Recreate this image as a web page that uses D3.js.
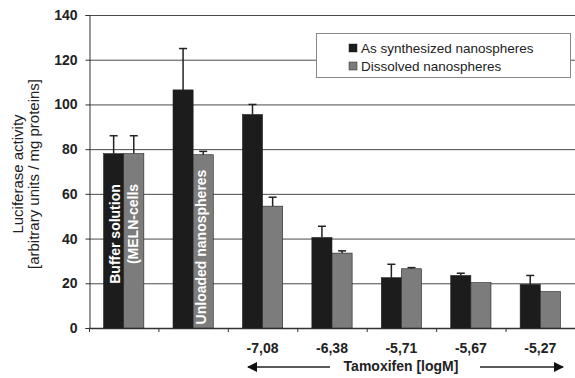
<!DOCTYPE html>
<html>
<head>
<meta charset="utf-8">
<script src="https://cdn.jsdelivr.net/npm/d3@7"></script>
<style>
  html, body { margin: 0; padding: 0; background: #fff; }
  svg { display: block; font-family: "Liberation Sans", Arial, sans-serif; }
</style>
</head>
<body>
<div id="chart"></div>
<script>
// data
const groups = ['buffer', 'unloaded', 'c1', 'c2', 'c3', 'c4', 'c5'];
const tickLabels = ['', '', '-7,08', '-6,38', '-5,71', '-5,67', '-5,27'];
const synthesized = [78, 106.5, 95.5, 40.5, 22.5, 23.5, 19.5];
const synthesizedErr = [86, 125, 100, 45.5, 28.5, 24.5, 23.5];
const dissolved = [78, 77.5, 54.5, 33.5, 26.5, 20.3, 16.3];
const dissolvedErr = [86, 79, 58.5, 34.5, 27, null, null];
const yTicks = [0, 20, 40, 60, 80, 100, 120, 140];
const seriesNames = ['As synthesized nanospheres', 'Dissolved nanospheres'];
const colors = ['#1c1c1c', '#7c7c7c'];

const width = 575, height = 378;
const margin = {top: 15, right: 0, bottom: 50, left: 89};

const svg = d3.select('#chart').append('svg')
  .attr('width', width).attr('height', height);

const x = d3.scaleBand().domain(groups)
  .range([margin.left, width - margin.right])
  .paddingInner(0.42).paddingOuter(0.21);
const y = d3.scaleLinear().domain([0, 140]).range([height - margin.bottom, margin.top]);
const bw = x.bandwidth() / 2;
const step = x.step();

// gridlines
svg.append('g').selectAll('line').data(yTicks.filter(d => d > 0)).join('line')
  .attr('x1', margin.left).attr('x2', width)
  .attr('y1', d => y(d) + 0.5).attr('y2', d => y(d) + 0.5)
  .attr('stroke', '#4a4a4a').attr('stroke-width', 1);

// y axis
const yAxis = svg.append('g').attr('transform', `translate(${margin.left + 0.5},0)`)
  .call(d3.axisLeft(y).tickValues(yTicks).tickSize(4).tickPadding(8));
yAxis.selectAll('text').attr('font-size', 14).attr('font-weight', 'bold').attr('fill', '#222');
yAxis.selectAll('line, path').attr('stroke', '#333');

// x axis baseline with boundary ticks
const xg = svg.append('g');
xg.append('line').attr('x1', margin.left).attr('x2', width)
  .attr('y1', y(0) + 0.5).attr('y2', y(0) + 0.5).attr('stroke', '#333').attr('stroke-width', 1.5);
xg.selectAll('.bt').data(groups).join('line')
  .attr('x1', (d, i) => margin.left + i * step + 0.5)
  .attr('x2', (d, i) => margin.left + i * step + 0.5)
  .attr('y1', y(0)).attr('y2', y(0) + 4).attr('stroke', '#333');
xg.selectAll('.lbl').data(groups).join('text')
  .attr('x', d => x(d) + x.bandwidth() / 2)
  .attr('y', y(0) + 25)
  .attr('text-anchor', 'middle')
  .attr('font-size', 14).attr('font-weight', 'bold').attr('fill', '#222')
  .text((d, i) => tickLabels[i]);

// bars
const series = [
  {vals: synthesized, err: synthesizedErr, off: 0},
  {vals: dissolved, err: dissolvedErr, off: bw}
];
series.forEach((s, si) => {
  svg.append('g').selectAll('rect').data(groups).join('rect')
    .attr('x', d => x(d) + s.off)
    .attr('y', (d, i) => y(s.vals[i]))
    .attr('width', bw)
    .attr('height', (d, i) => y(0) - y(s.vals[i]))
    .attr('fill', colors[si])
    .attr('stroke', '#222').attr('stroke-width', 0.6);
  const eg = svg.append('g').attr('stroke', '#222').attr('stroke-width', 1.5);
  groups.forEach((g, i) => {
    if (s.err[i] == null) return;
    const cx = x(g) + s.off + bw / 2;
    eg.append('line').attr('x1', cx).attr('x2', cx)
      .attr('y1', y(s.vals[i])).attr('y2', y(s.err[i]));
    eg.append('line').attr('x1', cx - 4).attr('x2', cx + 4)
      .attr('y1', y(s.err[i])).attr('y2', y(s.err[i]));
  });
});

// labels inside bars
const inBar = [
  {g: 'buffer', off: 0, text: 'Buffer solution', cy: 234, dx: 6},
  {g: 'buffer', off: bw, text: '(MELN-cells', cy: 224, dx: 4},
  {g: 'unloaded', off: bw, text: 'Unloaded nanospheres', cy: 247, dx: 3}
];
inBar.forEach(t => {
  const cx = x(t.g) + t.off + bw / 2 + t.dx;
  svg.append('text')
    .attr('transform', `translate(${cx},${t.cy}) rotate(-90)`)
    .attr('text-anchor', 'middle')
    .attr('font-size', 14).attr('font-weight', 'bold').attr('fill', '#fff')
    .text(t.text);
});

// y title
const yt = svg.append('text')
  .attr('transform', `translate(23,174) rotate(-90)`)
  .attr('text-anchor', 'middle').attr('font-size', 15).attr('fill', '#222');
yt.append('tspan').attr('x', 0).attr('dy', 0).text('Luciferase activity');
yt.append('tspan').attr('x', 0).attr('dy', 16).text('[arbitrary units / mg proteins]');

// x title with arrows
svg.append('text').attr('x', 401).attr('y', 371)
  .attr('text-anchor', 'middle').attr('font-size', 14).attr('font-weight', 'bold').attr('fill', '#222')
  .text('Tamoxifen [logM]');
svg.append('defs').append('marker').attr('id', 'arr')
  .attr('viewBox', '0 0 10 10').attr('refX', 9).attr('refY', 5)
  .attr('markerWidth', 8).attr('markerHeight', 8).attr('orient', 'auto-start-reverse')
  .append('path').attr('d', 'M0,0 L10,5 L0,10 Z').attr('fill', '#111');
svg.append('line').attr('x1', 330).attr('x2', 248).attr('y1', 367).attr('y2', 367)
  .attr('stroke', '#222').attr('stroke-width', 1.3).attr('marker-end', 'url(#arr)');
svg.append('line').attr('x1', 480).attr('x2', 563).attr('y1', 367).attr('y2', 367)
  .attr('stroke', '#222').attr('stroke-width', 1.3).attr('marker-end', 'url(#arr)');

// legend
const lg = svg.append('g');
lg.append('rect').attr('x', 316.5).attr('y', 33.5).attr('width', 254).attr('height', 44)
  .attr('fill', '#fff').attr('stroke', '#888');
seriesNames.forEach((n, i) => {
  const yy = 48 + i * 18;
  lg.append('rect').attr('x', 349).attr('y', yy - 4).attr('width', 8).attr('height', 8)
    .attr('fill', colors[i]).attr('stroke', '#222').attr('stroke-width', 0.5);
  lg.append('text').attr('x', 361).attr('y', yy + 5).attr('font-size', 13.5).attr('fill', '#222').text(n);
});
</script>
</body>
</html>
